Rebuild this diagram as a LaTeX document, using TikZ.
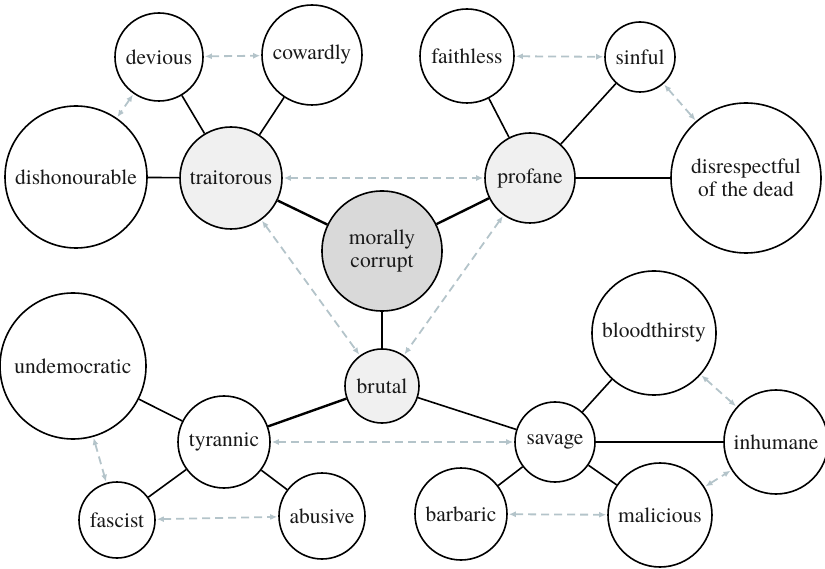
\documentclass[tikz,border=0pt]{standalone}
\usepackage{fontspec}
\IfFontExistsTF{texgyretermes-regular.otf}
  {\newfontfamily\labelfont{texgyretermes-regular.otf}}
  {\newfontfamily\labelfont{Liberation Serif}}
\usetikzlibrary{arrows.meta}
\definecolor{linkgray}{HTML}{B4C4CA}
\definecolor{corefill}{HTML}{D9D9D9}
\definecolor{midfill}{HTML}{F0F0F0}
\begin{document}
\begin{tikzpicture}[x=1pt,y=-1pt,
  word/.style={circle,draw=black,line width=1.6pt,fill=white,inner sep=0pt,
    align=center,font=\labelfont\fontsize{21.5}{23}\selectfont,text=black!90},
  core/.style={word,fill=corefill},
  hub/.style={word,fill=midfill},
  tie/.style={line width=1.6pt},
  strong/.style={line width=2.4pt},
  assoc/.style={draw=linkgray,line width=1.8pt,dash pattern=on 8pt off 5pt,
    {Latex[length=7pt,width=6pt]}-{Latex[length=7pt,width=6pt]},
    shorten <=1pt,shorten >=1pt}
]
\useasboundingbox (0,0) rectangle (825,569);

% centre
\node[core,minimum size=120pt] (mc) at (382,251) {morally\\corrupt};

% hubs
\node[hub,minimum size=102pt] (trai) at (231,178) {traitorous};
\node[hub,minimum size=90pt]  (prof) at (530,178) {profane};
\node[hub,minimum size=74pt]  (brut) at (382,386) {brutal};

% traitorous group
\node[word,minimum size=88pt]  (devi) at (159,57)  {devious};
\node[word,minimum size=100pt] (cowa) at (312,55)  {cowardly};
\node[word,minimum size=142pt] (disho) at (76,177) {dishonourable};

% profane group
\node[word,minimum size=94pt]  (fait) at (467,56)  {faithless};
\node[word,minimum size=70pt]  (sinf) at (640,57)  {sinful};
\node[word,minimum size=150pt] (disre) at (746,178) {disrespectful\\of the dead};

% brutal group
\node[word,minimum size=92pt]  (tyra) at (224,442) {tyrannic};
\node[word,minimum size=80pt]  (sava) at (555,442) {savage};
\node[word,minimum size=146pt] (unde) at (73,366)  {undemocratic};
\node[word,minimum size=76pt]  (fasc) at (117,520) {fascist};
\node[word,minimum size=86pt]  (abus) at (322,516) {abusive};
\node[word,minimum size=124pt] (bloo) at (654,333) {bloodthirsty};
\node[word,minimum size=104pt] (inhu) at (776,442) {inhumane};
\node[word,minimum size=92pt]  (barb) at (461,514) {barbaric};
\node[word,minimum size=104pt] (mali) at (660,515) {malicious};

% main links
\draw[strong] (mc) -- (trai);
\draw[strong] (mc) -- (prof);
\draw[strong] (mc) -- (brut);
\draw[strong] (brut) -- (tyra);
\draw[tie] (brut) -- (sava);

\draw[tie] (trai) -- (devi);
\draw[tie] (trai) -- (cowa);
\draw[tie] (trai) -- (disho);

\draw[tie] (prof) -- (fait);
\draw[tie] (prof) -- (sinf);
\draw[tie] (prof) -- (disre);

\draw[tie] (tyra) -- (unde);
\draw[tie] (tyra) -- (fasc);
\draw[tie] (tyra) -- (abus);

\draw[tie] (sava) -- (bloo);
\draw[tie] (sava) -- (inhu);
\draw[tie] (sava) -- (barb);
\draw[tie] (sava) -- (mali);

% associations
\draw[assoc] (devi) -- (cowa);
\draw[assoc] (devi) -- (disho);
\draw[assoc] (fait) -- (sinf);
\draw[assoc] (sinf) -- (disre);
\draw[assoc] (trai) -- (prof);
\draw[assoc] (trai) -- (brut);
\draw[assoc] (prof) -- (brut);
\draw[assoc] (unde) -- (fasc);
\draw[assoc] (fasc) -- (abus);
\draw[assoc] (tyra) -- (sava);
\draw[assoc] (barb) -- (mali);
\draw[assoc] (bloo) -- (inhu);
\draw[assoc] (mali) -- (inhu);
\end{tikzpicture}
\end{document}
